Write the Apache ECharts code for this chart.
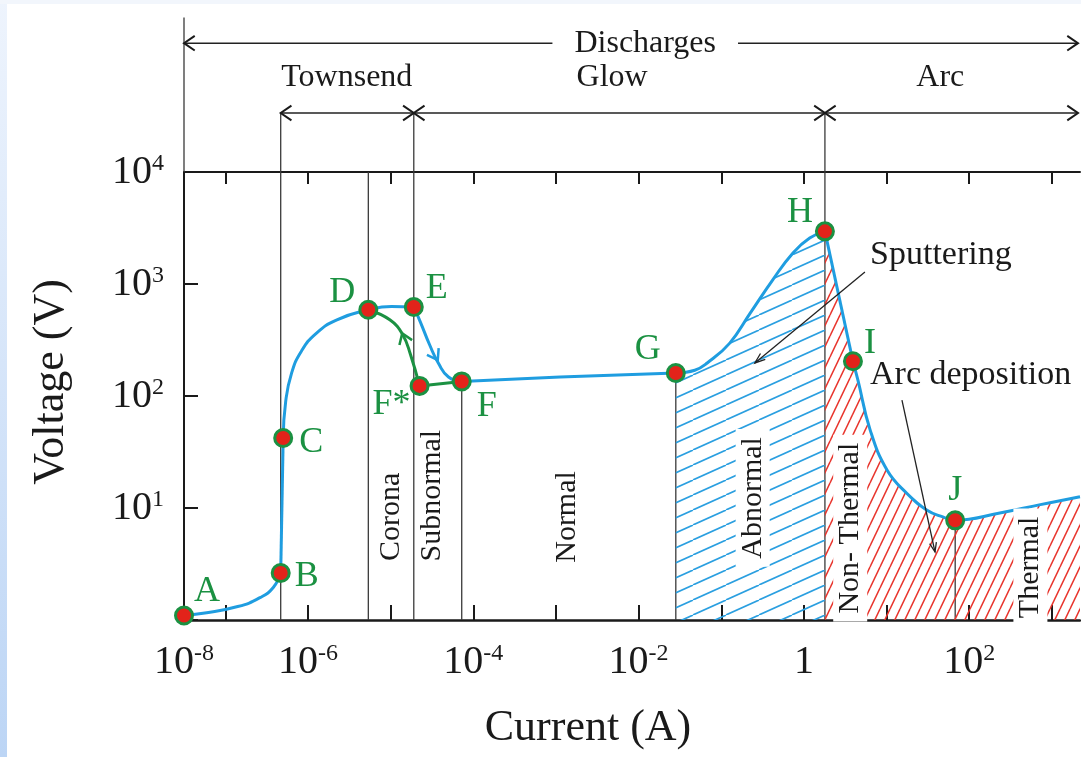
<!DOCTYPE html>
<html>
<head>
<meta charset="UTF-8">
<title>index.html</title>
<style>
html, body { margin: 0; padding: 0; background: #fff; }
#main { width: 1081px; height: 757px; }
</style>
</head>
<body>
<div id="main"></div>
<script src="https://cdn.jsdelivr.net/npm/echarts@6/dist/echarts.min.js"></script>
<script>
// x = log10(current / A), y = log10(voltage / V)
var curveAtoB = [[-7.5, 0.04], [-7.27, 0.06], [-6.85, 0.12], [-6.58, 0.2], [-6.42, 0.29], [-6.33, 0.42]];
var curveBtoC = [[-6.33, 0.42], [-6.30, 1.625]];
var curveCtoE = [[-6.30, 1.625], [-6.27, 1.95], [-6.20, 2.2], [-6.08, 2.4], [-5.9, 2.56], [-5.65, 2.68],
  [-5.27, 2.77], [-4.99, 2.80], [-4.72, 2.795]];
var curveEtoF = [[-4.72, 2.795], [-4.64, 2.66], [-4.53, 2.46], [-4.42, 2.29], [-4.3, 2.17], [-4.14, 2.13]];
var curveFtoG = [[-4.14, 2.13], [-2.95, 2.17], [-1.55, 2.205]];
var curveGtoH = [[-1.55, 2.205], [-1.32, 2.23], [-1.17, 2.295], [-0.90, 2.47], [-0.65, 2.74], [-0.375, 3.04],
  [-0.13, 3.28], [0.07, 3.41], [0.254, 3.47]];
var curveHtoI = [[0.254, 3.47], [0.593, 2.31]];
var curveItoEnd = [[0.593, 2.31], [0.654, 2.14], [0.80, 1.70], [1.005, 1.34], [1.247, 1.13], [1.49, 0.98],
  [1.68, 0.92], [1.83, 0.89], [2.37, 0.955], [2.86, 1.03], [3.34, 1.10]];
var greenPath = [[-5.27, 2.77], [-5.01, 2.68], [-4.855, 2.55], [-4.76, 2.37], [-4.65, 2.09]];
var greenLink = [[-4.65, 2.09], [-4.14, 2.13]];

var pointNames = ['A', 'B', 'C', 'D', 'E', 'F*', 'F', 'G', 'H', 'I', 'J'];
var pointX = [-7.5, -6.33, -6.30, -5.27, -4.72, -4.65, -4.14, -1.55, 0.254, 0.593, 1.83];
var pointY = [0.04, 0.42, 1.625, 2.77, 2.795, 2.09, 2.13, 2.205, 3.47, 2.31, 0.89];

var xTickValues = [-7, -6, -5, -4, -3, -2, -1, 0, 1, 2, 3];
var xLabelValues = [-7.5, -6, -4, -2, 0, 2];
var yLabelValues = [1, 2, 3, 4];

// region boundaries (x) and how high each line goes (y)
var boundaryX = [-6.33, -5.27, -4.72, -4.14, -1.55, 0.254, 1.83];
var boundaryTop = [4.527, 4, 4.527, 2.13, 2.205, 4.527, 0.89];

var regionNames = ['Corona', 'Subnormal', 'Normal', 'Abnormal', 'Non- Thermal', 'Thermal'];
var regionX = [-5.0, -4.5, -2.86, -0.62, 0.56, 2.74];
var regionY = [0.92, 1.11, 0.92, 1.09, 0.82, 0.47];

var bandNames = ['Townsend', 'Glow', 'Arc'];
var bandEdges = [-6.33, -4.72, 0.254, 3.34];

var BLUE = '#1f9de0', GREEN = '#1b9142', RED = '#e2231a', INK = '#1a1a1a';
var SERIF = '"Liberation Serif", "DejaVu Serif", serif';

function hatch(color, w, h, lw) {
  var c = document.createElement('canvas');
  c.width = w; c.height = h;
  var g = c.getContext('2d');
  g.strokeStyle = color; g.lineWidth = lw;
  [-w, 0, w].forEach(function (dx) {
    g.beginPath(); g.moveTo(dx, h); g.lineTo(dx + w, 0); g.stroke();
  });
  return c;
}
var bluePattern = { image: hatch('#2a9fe0', 33, 15, 1.6), repeat: 'repeat' };
var redPattern = { image: hatch('#e8342c', 10, 21, 1.5), repeat: 'repeat' };

var labelOffsets = [[23, -24], [26, 4], [28, 5], [-26, -17], [23, -18], [-28, 19], [25, 25], [-28, -23], [-25, -19], [17, -18], [0, -30]];
var points = pointNames.map(function (n, i) {
  return { name: n, value: [pointX[i], pointY[i]], label: { offset: labelOffsets[i] } };
});

var richTick = {
  b: { fontSize: 40, fontFamily: SERIF, color: INK, lineHeight: 40 },
  s: { fontSize: 24, fontFamily: SERIF, color: INK, verticalAlign: 'top', lineHeight: 24 }
};

var chart = echarts.init(document.getElementById('main'));
var blueLine = { color: BLUE, width: 3 };
function curve(data, smooth, extra) {
  return Object.assign({ type: 'line', data: data, smooth: smooth, symbol: 'none', lineStyle: blueLine, z: 4 }, extra || {});
}
var option = {
  animation: false,
  backgroundColor: '#fff',
  grid: { left: 184, right: 1, top: 172, bottom: 137, containLabel: false },
  xAxis: [{
    type: 'value', min: -7.5, max: 3.34, position: 'bottom',
    splitLine: { show: false },
    axisLine: { onZero: false, lineStyle: { color: INK, width: 2.5 } },
    axisTick: { inside: true, length: 15, customValues: xTickValues, lineStyle: { color: INK, width: 2 } },
    axisLabel: {
      customValues: xLabelValues, margin: 22, rich: richTick,
      formatter: function (v) {
        if (v < -7) return '{b|10}{s|-8}';
        if (v === 0) return '{b|1}';
        return '{b|10}{s|' + v + '}';
      }
    }
  }, {
    type: 'value', min: -7.5, max: 3.34, position: 'top',
    splitLine: { show: false },
    axisLine: { onZero: false, lineStyle: { color: INK, width: 2 } },
    axisTick: { inside: true, length: 12, customValues: xTickValues, lineStyle: { color: INK, width: 2 } },
    axisLabel: { show: false }
  }],
  yAxis: {
    type: 'value', min: 0, max: 4, interval: 1,
    splitLine: { show: false },
    axisLine: { onZero: false, lineStyle: { color: INK, width: 2 } },
    axisTick: { inside: true, length: 14, lineStyle: { color: INK, width: 2 } },
    axisLabel: {
      margin: 20, rich: richTick, customValues: yLabelValues,
      formatter: function (v) { return v === 0 ? '' : '{b|10}{s|' + v + '}'; }
    }
  },
  series: [
    curve(curveAtoB, 0.5),
    curve(curveBtoC, false),
    curve(curveCtoE, 0.5),
    curve(curveEtoF, 0.5),
    curve(curveFtoG, 0.5),
    curve(curveGtoH, 0.45, { areaStyle: { color: bluePattern, opacity: 1 }, z: 2 }),
    curve(curveHtoI, false, { areaStyle: { color: redPattern, opacity: 1 }, z: 2 }),
    curve(curveItoEnd, 0.45, { areaStyle: { color: redPattern, opacity: 1 }, z: 2 }),
    { type: 'line', data: greenPath, smooth: 0.45, symbol: 'none', lineStyle: { color: GREEN, width: 3 }, z: 4 },
    { type: 'line', data: greenLink, symbol: 'none', lineStyle: { color: GREEN, width: 3 }, z: 4 },
    {
      type: 'scatter', data: points, symbolSize: 17, z: 6,
      itemStyle: { color: RED, borderColor: GREEN, borderWidth: 3, opacity: 1 },
      label: { show: true, position: 'inside', formatter: '{b}', fontSize: 36, fontFamily: SERIF, color: GREEN }
    }
  ]
};
chart.setOption(option);

// annotations, positioned through the chart's own coordinate system
function px(x, y) { return chart.convertToPixel({ xAxisIndex: 0, yAxisIndex: 0 }, [x, y]); }
function seg(a, b, color, w, z) {
  return { type: 'line', z: z || 1, silent: true,
    shape: { x1: a[0], y1: a[1], x2: b[0], y2: b[1] }, style: { stroke: color || INK, lineWidth: w || 1.3 } };
}
function chevron(tip, ang, len, spread, color, w) {
  var a1 = ang + spread, a2 = ang - spread;
  return { type: 'polyline', z: 5, silent: true,
    shape: { points: [[tip[0] + len * Math.cos(a1), tip[1] + len * Math.sin(a1)], tip,
      [tip[0] + len * Math.cos(a2), tip[1] + len * Math.sin(a2)]] },
    style: { stroke: color || INK, lineWidth: w || 2, fill: null } };
}
function txt(p, s, size, opts) {
  var st = Object.assign({ text: s, font: size + 'px ' + SERIF, fill: INK, align: 'center', verticalAlign: 'middle' }, opts || {});
  return { type: 'text', x: p[0], y: p[1], z: 5, silent: true, style: st };
}

var g = [];
// left strip of the slide background
g.push({ type: 'rect', z: 0, shape: { x: 0, y: 0, width: 7, height: 757 },
  style: { fill: new echarts.graphic.LinearGradient(0, 0, 0, 1, [{ offset: 0, color: '#eef4fd' }, { offset: 1, color: '#bcd5f5' }]) } });
g.push({ type: 'rect', z: 0, shape: { x: 0, y: 0, width: 1081, height: 4 }, style: { fill: '#f2f6fc' } });

// region boundaries
boundaryX.forEach(function (x, i) { g.push(seg(px(x, boundaryTop[i]), px(x, 0), '#3a3a3a', 1.3)); });
g.push(seg(px(-7.5, 5.38), px(-7.5, 4), '#3a3a3a', 1.3));

// discharges bracket
var yD = 5.15, yB = 4.527;
var dl = px(-7.5, yD), dr = px(3.34, yD);
dr[0] -= 2;
g.push(seg(dl, dr, '#222', 1.5));
g.push(chevron(dl, 0, 13, 0.6));
g.push(chevron(dr, Math.PI, 13, 0.6));
g.push(txt(px(-1.92, yD), 'Discharges', 32, { backgroundColor: '#fff', padding: [0, 22] }));

// Townsend / Glow / Arc bracket
for (var i = 0; i < bandNames.length; i++) {
  var l = px(bandEdges[i], yB), r = px(bandEdges[i + 1], yB);
  if (i === bandNames.length - 1) r[0] -= 2;
  g.push(seg(l, r, '#222', 1.5));
  g.push(chevron(l, 0, 13, 0.6));
  g.push(chevron(r, Math.PI, 13, 0.6));
}
g.push(txt(px(-5.53, 4.84), 'Townsend', 32));
g.push(txt(px(-2.32, 4.84), 'Glow', 32));
g.push(txt(px(1.65, 4.84), 'Arc', 32));

// vertical region names
regionNames.forEach(function (n, i) {
  var boxed = i >= 3;
  var p = px(regionX[i], regionY[i]);
  g.push({ type: 'text', x: p[0], y: p[1], rotation: Math.PI / 2, z: 5, silent: true,
    style: { text: n, font: '30px ' + SERIF, fill: INK, align: 'center', verticalAlign: 'middle',
      backgroundColor: boxed ? '#fff' : null, padding: boxed ? [2, 8] : 0 } });
});

// flow arrows on the curves
g.push(chevron(px(-4.43, 2.32), -120 * Math.PI / 180, 12, 0.6, BLUE, 2.5));
g.push(chevron(px(-4.86, 2.56), 69 * Math.PI / 180, 12, 0.6, GREEN, 2.5));

// Sputtering / Arc deposition call-outs
var s1 = px(0.738, 3.107), s2 = px(-0.593, 2.295);
g.push(seg(s1, s2, '#222', 1.3, 5));
g.push(chevron(s2, Math.atan2(s1[1] - s2[1], s1[0] - s2[0]), 11, 0.35, '#222', 1.3));
g.push(txt(px(0.80, 3.26), 'Sputtering', 34, { align: 'left' }));
var a1 = px(1.186, 1.964), a2 = px(1.586, 0.607);
g.push(seg(a1, a2, '#222', 1.3, 5));
g.push(chevron(a2, Math.atan2(a1[1] - a2[1], a1[0] - a2[0]), 10, 0.35, '#222', 1.3));
g.push(txt(px(0.80, 2.19), 'Arc deposition', 34, { align: 'left' }));

// axis titles
g.push(txt([588, 728], 'Current (A)', 44));
g.push({ type: 'text', x: 51, y: 382, rotation: Math.PI / 2, z: 5, silent: true,
  style: { text: 'Voltage (V)', font: '44px ' + SERIF, fill: INK, align: 'center', verticalAlign: 'middle' } });

chart.setOption({ graphic: g });
</script>
</body>
</html>
